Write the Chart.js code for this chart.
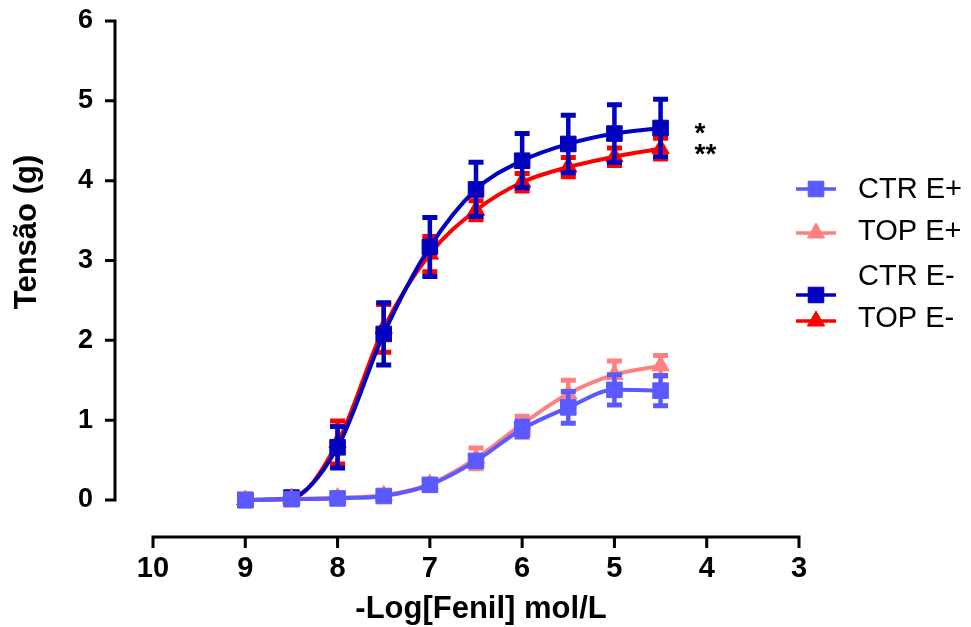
<!DOCTYPE html>
<html>
<head>
<meta charset="utf-8">
<script src="https://cdn.jsdelivr.net/npm/chart.js@4/dist/chart.umd.min.js"></script>
<style>
  html, body { margin: 0; padding: 0; background: #fff; }
</style>
</head>
<body>
<canvas id="curvas" width="971" height="627"></canvas>
<script>
// -log da concentração de fenilefrina (mol/L)
const logFenil = [9, 8.5, 8, 7.5, 7, 6.5, 6, 5.5, 5, 4.5];

// tensão média (g) e erro padrão de cada grupo
const ctrEmais = [0.00, 0.01, 0.02, 0.05, 0.19, 0.49, 0.89, 1.16, 1.38, 1.37];
const ctrEmaisEpm = [0.01, 0.01, 0.01, 0.02, 0.03, 0.05, 0.10, 0.20, 0.19, 0.19];
const topEmais = [0.00, 0.01, 0.03, 0.06, 0.20, 0.52, 0.95, 1.33, 1.57, 1.68];
const topEmaisEpm = [0.01, 0.01, 0.01, 0.02, 0.03, 0.13, 0.10, 0.17, 0.17, 0.13];
const ctrEmenos = [0.00, 0.03, 0.66, 2.08, 3.17, 3.89, 4.25, 4.46, 4.59, 4.66];
const ctrEmenosEpm = [0.02, 0.03, 0.26, 0.39, 0.37, 0.34, 0.34, 0.36, 0.36, 0.36];
const topEmenos = [0.00, 0.02, 0.72, 2.15, 3.08, 3.63, 3.98, 4.17, 4.30, 4.40];
const topEmenosEpm = [0.03, 0.03, 0.27, 0.30, 0.22, 0.12, 0.11, 0.12, 0.11, 0.13];

const grupos = ["CTR E+", "TOP E+", "CTR E-", "TOP E-"];
const asteriscos = ["", "", "*", "**"];
const xTicks = [10, 9, 8, 7, 6, 5, 4, 3];
const yTicks = [0, 1, 2, 3, 4, 5, 6];

const cores = ["#5a5aff", "#ff8080", "#0000be", "#ff0000"];
const simbolos = ["rect", "triangle", "rect", "triangle"];
const medias = [ctrEmais, topEmais, ctrEmenos, topEmenos];
const epms = [ctrEmaisEpm, topEmaisEpm, ctrEmenosEpm, topEmenosEpm];

const fonte = '"Liberation Sans", Arial, sans-serif';

const datasets = grupos.map(function (nome, i) {
  return {
    label: nome,
    data: logFenil.map(function (x, j) {
      return { x: x, y: medias[i][j] };
    }),
    epm: epms[i],
    asterisco: asteriscos[i],
    borderColor: cores[i],
    backgroundColor: cores[i],
    borderWidth: 4,
    cubicInterpolationMode: "monotone",
    pointStyle: simbolos[i],
    pointRadius: simbolos[i] == "rect" ? 11 : 10,
    pointBorderWidth: 1,
    clip: false,
  };
});

// barras de erro (média ± EPM) desenhadas antes de cada série
const barrasErro = {
  id: "barrasErro",
  beforeDatasetDraw(chart, args) {
    const ds = chart.data.datasets[args.index];
    const ctx = chart.ctx;
    const y = chart.scales.y;
    ctx.save();
    ctx.strokeStyle = ds.borderColor;
    args.meta.data.forEach(function (pt, j) {
      const v = ds.data[j].y;
      const alto = y.getPixelForValue(v + ds.epm[j]);
      const baixo = y.getPixelForValue(v - ds.epm[j]);
      ctx.lineWidth = 4.5;
      ctx.beginPath();
      ctx.moveTo(pt.x, alto);
      ctx.lineTo(pt.x, baixo);
      ctx.stroke();
      ctx.lineWidth = 5;
      ctx.beginPath();
      ctx.moveTo(pt.x - 7.5, alto);
      ctx.lineTo(pt.x + 7.5, alto);
      ctx.moveTo(pt.x - 7.5, baixo);
      ctx.lineTo(pt.x + 7.5, baixo);
      ctx.stroke();
    });
    ctx.restore();
  },
};

// eixos separados da área do gráfico, títulos, asteriscos e legenda
const eixos = {
  id: "eixos",
  afterDraw(chart) {
    const ctx = chart.ctx;
    const sx = chart.scales.x;
    const sy = chart.scales.y;
    const area = chart.chartArea;
    ctx.save();
    ctx.strokeStyle = "#000";
    ctx.lineWidth = 3;

    const xEixoY = area.left - 38;
    ctx.beginPath();
    ctx.moveTo(xEixoY, sy.getPixelForValue(6));
    ctx.lineTo(xEixoY, sy.getPixelForValue(0));
    yTicks.forEach(function (v) {
      const py = sy.getPixelForValue(v);
      ctx.moveTo(xEixoY + 1.5, py);
      ctx.lineTo(xEixoY - 10, py);
    });
    ctx.stroke();

    const yEixoX = area.bottom + 37;
    ctx.beginPath();
    ctx.moveTo(sx.getPixelForValue(10), yEixoX);
    ctx.lineTo(sx.getPixelForValue(3), yEixoX);
    xTicks.forEach(function (v) {
      const px = sx.getPixelForValue(v);
      ctx.moveTo(px, yEixoX - 1.5);
      ctx.lineTo(px, yEixoX + 11);
    });
    ctx.stroke();

    ctx.fillStyle = "#000";
    ctx.font = "bold 31px " + fonte;
    ctx.textAlign = "center";
    ctx.textBaseline = "alphabetic";
    ctx.fillText("-Log[Fenil] mol/L", 481, 618);
    ctx.translate(36, 232);
    ctx.rotate(-Math.PI / 2);
    ctx.fillText("Tensão (g)", 0, 0);
    ctx.setTransform(1, 0, 0, 1, 0, 0);

    ctx.font = "bold 28px " + fonte;
    ctx.textAlign = "left";
    chart.data.datasets.forEach(function (ds, i) {
      if (!ds.asterisco) return;
      const pts = chart.getDatasetMeta(i).data;
      const ult = pts[pts.length - 1];
      ctx.fillText(ds.asterisco, ult.x + 34, ult.y + 14);
    });

    const linhaLegenda = [189, 233, 295, 321];
    const textoLegenda = [190, 232, 277, 319];
    ctx.font = "29px " + fonte;
    ctx.textBaseline = "middle";
    chart.data.datasets.forEach(function (ds, i) {
      const cy = linhaLegenda[i];
      ctx.strokeStyle = ds.borderColor;
      ctx.fillStyle = ds.backgroundColor;
      ctx.lineWidth = 3.5;
      ctx.beginPath();
      ctx.moveTo(796, cy);
      ctx.lineTo(836, cy);
      ctx.stroke();
      ctx.lineWidth = 1;
      Chart.helpers.drawPoint(ctx, {
        pointStyle: ds.pointStyle,
        radius: ds.pointRadius,
        rotation: 0,
        borderWidth: 1,
      }, 816, cy);
      ctx.fillStyle = "#000";
      ctx.fillText(ds.label, 858, textoLegenda[i]);
    });
    ctx.restore();
  },
};

new Chart(document.getElementById("curvas"), {
  type: "line",
  data: { datasets: datasets },
  plugins: [barrasErro, eixos],
  options: {
    responsive: false,
    animation: false,
    layout: { padding: { top: 21, right: 172, bottom: 0, left: 0 } },
    plugins: {
      legend: { display: false },
      tooltip: { enabled: false },
    },
    scales: {
      x: {
        type: "linear",
        reverse: true,
        min: 3,
        max: 10,
        afterFit: function (s) {
          s.height = 127;
          s.paddingLeft = 0;
          s.paddingRight = 0;
        },
        afterBuildTicks: function (s) {
          s.ticks = xTicks.map(function (v) { return { value: v }; });
        },
        grid: { display: false },
        border: { display: false },
        ticks: {
          padding: 44,
          color: "#000",
          font: { family: fonte, size: 29, weight: "bold" },
        },
      },
      y: {
        min: 0,
        max: 6,
        afterFit: function (s) {
          s.width = 153;
          s.paddingTop = 0;
          s.paddingBottom = 0;
        },
        afterBuildTicks: function (s) {
          s.ticks = yTicks.map(function (v) { return { value: v }; });
        },
        grid: { display: false },
        border: { display: false },
        ticks: {
          padding: 52,
          color: "#000",
          font: { family: fonte, size: 27, weight: "bold" },
        },
      },
    },
  },
});
</script>
</body>
</html>
